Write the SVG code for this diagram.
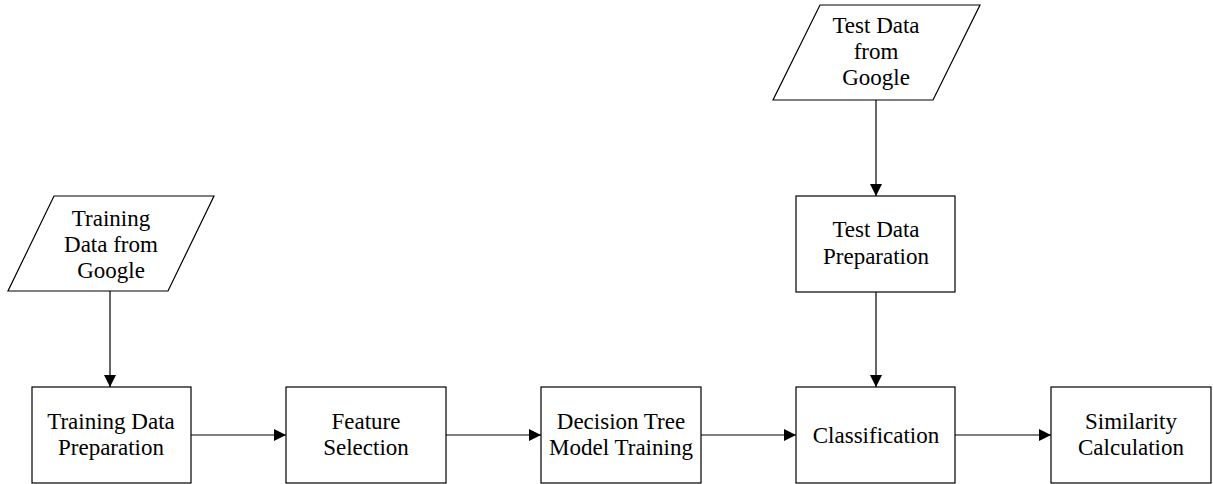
<svg xmlns="http://www.w3.org/2000/svg" width="1213" height="484" viewBox="0 0 1213 484">
<defs>
<marker id="ah" viewBox="0 0 10 10" refX="10" refY="5" markerWidth="12" markerHeight="12" markerUnits="userSpaceOnUse" orient="auto">
<path d="M0,0 L10,5 L0,10 Z" fill="#000"/>
</marker>
</defs>
<style>
.shape{fill:#fff;stroke:#000;stroke-width:1.2}
.lbl{font-family:"Liberation Serif","Times New Roman",serif;font-size:23px;fill:#000;text-anchor:middle}
.conn{stroke:#000;stroke-width:1.2;fill:none;marker-end:url(#ah)}
</style>
<rect width="1213" height="484" fill="#fff"/>
<g id="connectors">
<line class="conn" x1="110" y1="291" x2="110" y2="387"/>
<line class="conn" x1="876" y1="100" x2="876" y2="196"/>
<line class="conn" x1="876" y1="292" x2="876" y2="387"/>
<line class="conn" x1="191" y1="435" x2="286" y2="435"/>
<line class="conn" x1="446" y1="435" x2="541" y2="435"/>
<line class="conn" x1="701" y1="435" x2="796" y2="435"/>
<line class="conn" x1="955" y1="435" x2="1051" y2="435"/>
</g>
<g id="training-data">
<polygon class="shape" points="54,196 214,196 168,291 8,291"/>
<text class="lbl" x="111" y="226">Training</text>
<text class="lbl" x="111" y="252">Data from</text>
<text class="lbl" x="111" y="278">Google</text>
</g>
<g id="test-data">
<polygon class="shape" points="820,5 980,5 933,100 773,100"/>
<text class="lbl" x="876" y="33">Test Data</text>
<text class="lbl" x="876" y="59">from</text>
<text class="lbl" x="876" y="85">Google</text>
</g>
<g id="training-prep">
<rect class="shape" x="32" y="387" width="159" height="96"/>
<text class="lbl" x="111" y="429">Training Data</text>
<text class="lbl" x="111" y="455">Preparation</text>
</g>
<g id="feature-selection">
<rect class="shape" x="286" y="387" width="160" height="96"/>
<text class="lbl" x="366" y="429">Feature</text>
<text class="lbl" x="366" y="455">Selection</text>
</g>
<g id="dt-training">
<rect class="shape" x="541" y="387" width="160" height="96"/>
<text class="lbl" x="621" y="429">Decision Tree</text>
<text class="lbl" x="621" y="455">Model Training</text>
</g>
<g id="test-prep">
<rect class="shape" x="796" y="196" width="159" height="96"/>
<text class="lbl" x="876" y="237">Test Data</text>
<text class="lbl" x="876" y="264">Preparation</text>
</g>
<g id="classification">
<rect class="shape" x="796" y="387" width="159" height="96"/>
<text class="lbl" x="876" y="443">Classification</text>
</g>
<g id="similarity">
<rect class="shape" x="1051" y="387" width="160" height="96"/>
<text class="lbl" x="1131" y="429">Similarity</text>
<text class="lbl" x="1131" y="455">Calculation</text>
</g>
</svg>
